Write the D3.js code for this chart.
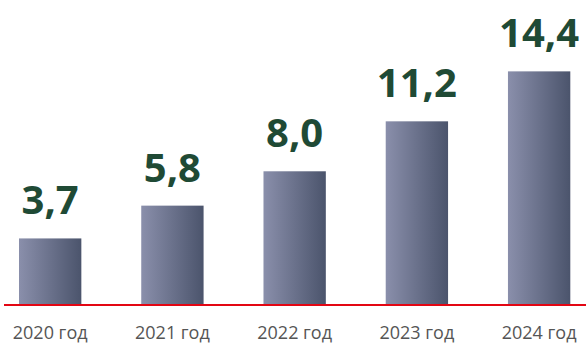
<!DOCTYPE html>
<html>
<head>
<meta charset="utf-8">
<script src="https://cdn.jsdelivr.net/npm/d3@7"></script>
<style>
  body { margin: 0; background: #fff; }
  .value { font-family: "Open Sans", sans-serif; font-weight: 700; fill: #1f4a35; }
  .axis text { font-family: "Open Sans", sans-serif; font-size: 18px; fill: #555; }
</style>
</head>
<body>
<svg class="chart"></svg>
<script>
// chart size
var width = 586;
var height = 344;

// data
var years = ["2020 год", "2021 год", "2022 год", "2023 год", "2024 год"];
var values = [3.7, 5.8, 8.0, 11.2, 14.4];
var valueLabels = ["3,7", "5,8", "8,0", "11,2", "14,4"];

var svg = d3.select(".chart")
    .attr("width", width)
    .attr("height", height);

// bar gradient, light on the left, dark on the right
var grad = svg.append("defs").append("linearGradient")
    .attr("id", "barGrad")
    .attr("x1", "0%").attr("x2", "100%")
    .attr("y1", "0%").attr("y2", "0%");
grad.append("stop").attr("offset", "0%").attr("stop-color", "#8a8fab");
grad.append("stop").attr("offset", "100%").attr("stop-color", "#4b546c");

var x = d3.scaleBand()
    .domain(years)
    .range([19, 570.3])
    .paddingInner(0.49)
    .paddingOuter(0);

// bars start a bit below zero, down to the red line
var y = d3.scaleLinear()
    .domain([-0.5, 15])
    .range([304, 62]);

var data = years.map(function(d, i) {
    return {year: d, value: values[i], label: valueLabels[i]};
});

// bars
svg.selectAll("rect.bar")
    .data(data)
    .enter().append("rect")
    .attr("class", "bar")
    .attr("x", function(d) { return x(d.year); })
    .attr("y", function(d) { return y(d.value); })
    .attr("width", x.bandwidth())
    .attr("height", function(d) { return y(-0.5) - y(d.value); })
    .style("fill", "url(#barGrad)");

// red baseline
svg.append("line")
    .attr("x1", 4)
    .attr("x2", width)
    .attr("y1", y(-0.5) + 1)
    .attr("y2", y(-0.5) + 1)
    .style("stroke", "#e30613")
    .style("stroke-width", 2);

// value labels above the bars
svg.selectAll("text.value")
    .data(data)
    .enter().append("text")
    .attr("class", "value")
    .attr("x", function(d) { return x(d.year) + x.bandwidth() / 2; })
    .attr("y", function(d) { return y(d.value) - 24; })
    .attr("text-anchor", "middle")
    .style("font-size", "40px")
    .text(function(d) { return d.label; });

// year labels
var xAxis = d3.axisBottom(x).tickSize(0).tickPadding(0);
svg.append("g")
    .attr("class", "axis")
    .attr("transform", "translate(0,326)")
    .call(xAxis)
    .call(function(g) { g.select(".domain").remove(); });
</script>
</body>
</html>
